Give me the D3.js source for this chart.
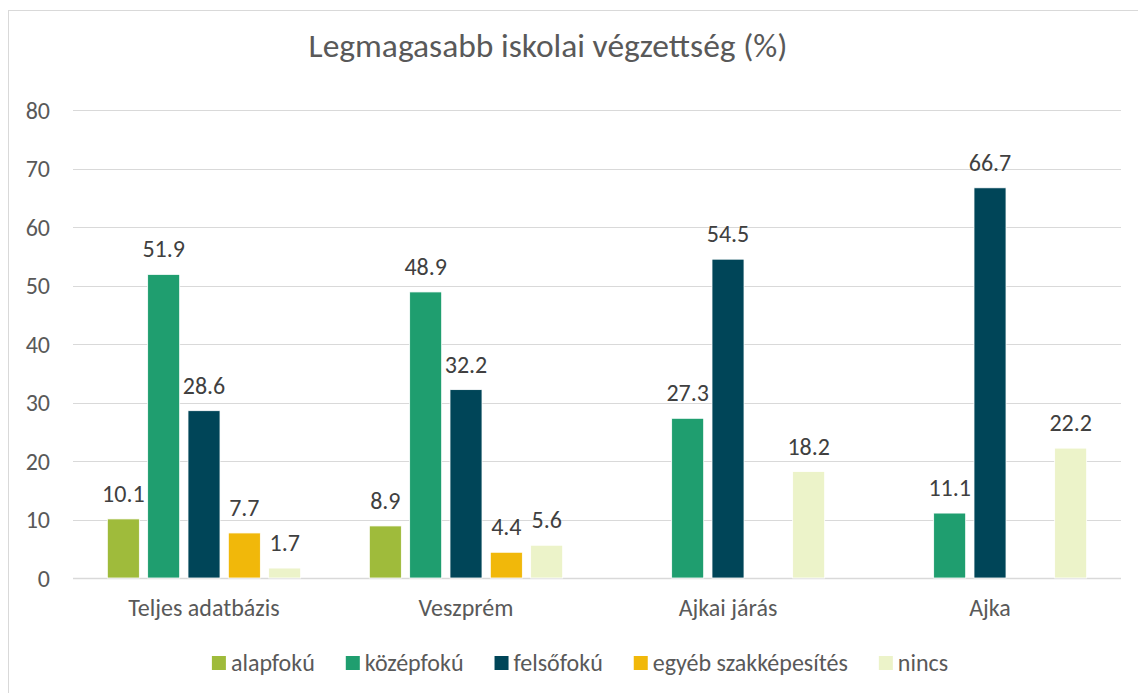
<!DOCTYPE html>
<html>
<head>
<meta charset="utf-8">
<script src="https://cdn.jsdelivr.net/npm/d3@7"></script>
<style>
  body { margin: 0; background: #fff; }
  svg text { font-family: Carlito, Calibri, Lato, sans-serif; }
</style>
</head>
<body>
<script>
const W = 1138, H = 693;

// data
const categories = ['Teljes adatbázis', 'Veszprém', 'Ajkai járás', 'Ajka'];
const series = ['alapfokú', 'középfokú', 'felsőfokú', 'egyéb szakképesítés', 'nincs'];
const alapfoku = [10.1, 8.9, null, null];
const kozepfoku = [51.9, 48.9, 27.3, 11.1];
const felsofoku = [28.6, 32.2, 54.5, 66.7];
const egyeb = [7.7, 4.4, null, null];
const nincs = [1.7, 5.6, 18.2, 22.2];
const yTicks = [0, 10, 20, 30, 40, 50, 60, 70, 80];
const colors = ['#9fbb3b', '#1f9e6f', '#004558', '#f1b80a', '#ecf3c9'];

const values = [alapfoku, kozepfoku, felsofoku, egyeb, nincs];
const rows = [];
categories.forEach((c, ci) => {
    series.forEach((s, si) => {
        if (values[si][ci] != null) rows.push({cat: c, ser: s, si: si, value: values[si][ci]});
    });
});

const M = {left: 73, right: 1121, top: 110, bottom: 578};
const FS = '24px';

const svg = d3.select('body')
    .append('svg')
    .attr('width', W)
    .attr('height', H);

// chart border
svg.append('rect')
    .attr('x', 8.5)
    .attr('y', 10.5)
    .attr('width', W + 20)
    .attr('height', H + 20)
    .attr('fill', '#fff')
    .attr('stroke', '#d9d9d9')
    .attr('stroke-width', 1);

// title
svg.append('text')
    .attr('x', 548)
    .attr('y', 57)
    .attr('text-anchor', 'middle')
    .attr('fill', '#595959')
    .style('font-size', '33.5px')
    .text('Legmagasabb iskolai végzettség (%)');

// scales
const y = d3.scaleLinear().domain([0, 80]).range([M.bottom, M.top]);
const x0 = d3.scaleBand().domain(categories).range([M.left, M.right]);
const x1 = d3.scaleBand()
    .domain(series)
    .range([x0.bandwidth() * 0.131, x0.bandwidth() * 0.869])
    .paddingInner(0.206);

// gridlines
svg.append('g')
    .selectAll('line')
    .data(yTicks)
    .enter()
    .append('line')
    .attr('x1', M.left)
    .attr('x2', M.right)
    .attr('y1', d => Math.round(y(d)) + 0.5)
    .attr('y2', d => Math.round(y(d)) + 0.5)
    .attr('stroke', '#d9d9d9')
    .attr('stroke-width', d => d === 0 ? 1.5 : 1.2);

// y axis labels
const yAxis = svg.append('g')
    .attr('transform', `translate(50,0)`)
    .call(d3.axisLeft(y).tickValues(yTicks).tickSize(0).tickPadding(0));
yAxis.select('.domain').remove();
yAxis.selectAll('text')
    .attr('fill', '#595959')
    .style('font-size', FS)
    .attr('dy', '0.35em');

// x axis labels
const xAxis = svg.append('g')
    .attr('transform', `translate(0,${M.bottom})`)
    .call(d3.axisBottom(x0).tickSize(0).tickPadding(0));
xAxis.select('.domain').remove();
xAxis.selectAll('text')
    .attr('fill', '#595959')
    .style('font-size', FS)
    .attr('dy', 0)
    .attr('y', 38);

// bars
const bar = svg.append('g')
    .selectAll('g')
    .data(rows)
    .enter()
    .append('g')
    .attr('transform', d => `translate(${x0(d.cat) + x1(d.ser)},0)`);

bar.append('rect')
    .attr('x', 0)
    .attr('width', x1.bandwidth())
    .attr('y', d => y(d.value))
    .attr('height', d => y(0) - y(d.value))
    .attr('fill', d => colors[d.si])
    .attr('stroke', '#fff')
    .attr('stroke-width', 0.8);

bar.append('text')
    .attr('x', x1.bandwidth() / 2)
    .attr('y', d => y(d.value) - 17)
    .attr('text-anchor', 'middle')
    .attr('fill', '#404040')
    .style('font-size', FS)
    .text(d => d.value.toFixed(1));

// legend
const legend = svg.append('g');
const items = legend.selectAll('g')
    .data(series)
    .enter()
    .append('g');

items.append('rect')
    .attr('width', 14)
    .attr('height', 14)
    .attr('y', 656)
    .attr('fill', (d, i) => colors[i]);

items.append('text')
    .attr('x', 19)
    .attr('y', 671)
    .attr('fill', '#595959')
    .style('font-size', FS)
    .text(d => d);

let lx = 0;
items.each(function () {
    const w = this.querySelector('text').getComputedTextLength();
    d3.select(this).attr('transform', `translate(${lx},0)`);
    lx += 19 + w + 31;
});
const legendW = lx - 31;
legend.attr('transform', `translate(${580 - legendW / 2},0)`);
</script>
</body>
</html>
